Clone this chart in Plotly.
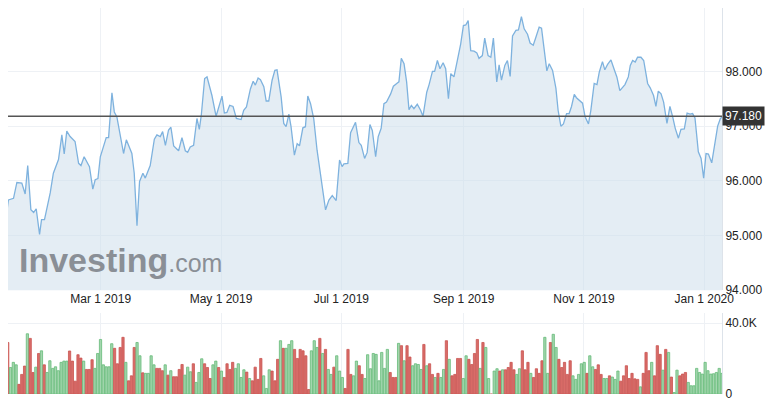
import pandas as pd
import plotly.graph_objects as go

START = pd.Timestamp("2019-01-10")
END = pd.Timestamp("2020-01-10")

# price: days after START, value
price_days = [0, 1.5, 3.2, 5.8, 7.5, 10, 11.7, 13, 14.6, 16, 17.3, 19, 20, 21.5, 24.4, 26, 28.6, 30.3, 31.5, 32.8,
              34.5, 37, 38.8, 40, 41.6, 44.3, 46, 47.2, 48.6, 49.8, 52.8, 54, 55.7, 56.9, 58.2, 59.9, 61.6, 63, 65.8, 67,
              68.4, 69.7, 71.4, 72.6, 75.1, 77.2, 78.5, 80.2, 81.4, 82.8, 84.4, 85.6, 87, 89.5, 91.2, 92.9, 94.1, 95.4, 97.1, 98.8,
              100, 101, 102.7, 103.9, 106.4, 108.5, 111.5, 112.7, 114, 115.4, 117.1, 118.8, 121.2, 122.5, 123.9, 125.9, 127.3, 128.4, 129.8, 131,
              132.7, 133.9, 135.2, 136.9, 138.3, 139.4, 141.5, 142.8, 144, 145.4, 146.5, 148.2, 149.6, 150.8, 152.5, 153.8, 155, 156.4, 158, 159.7,
              161.8, 164, 165.7, 167.4, 169.4, 171.1, 172.4, 173.3, 175.3, 176.7, 179.2, 180.9, 182.1, 183.8, 185.1, 186.5, 187.7, 189.4, 190.7, 192.2,
              193.6, 194.9, 197, 198.4, 200.4, 201.2, 202.4, 203.8, 205.1, 206.3, 207.5, 208.8, 210.5, 212.2, 213.4, 215.3, 216.5, 218.2, 219.3, 220.7,
              222, 223.6, 224.9, 226.3, 227.5, 229.1, 230.8, 232.5, 233.9, 235.1, 236.3, 237.6, 239.3, 240.7, 241.8, 243.5, 244.7, 246.4, 247.8, 249.1,
              250.8, 252, 253.2, 254.9, 256.2, 257.6, 258.8, 260.5, 261.8, 263.3, 264.7, 266.4, 267.7, 269.3, 270.6, 272.3, 273.5, 274.8, 276.2, 277.4,
              279.1, 280.8, 281.9, 283.3, 284.6, 286.2, 287.5, 288.7, 290.1, 291.2, 293.1, 294.3, 295.6, 297.3, 298.5, 300.2, 301.6, 302.8, 304.4, 305.6,
              307, 308.7, 310.4, 311.7, 313.2, 314.6, 315.8, 317.5, 318.5, 319.7, 321, 322.2, 323.9, 325.3, 327.3, 328.6, 330.3, 331.5, 332.7, 334.1,
              335.4, 337.1, 338.6, 340, 341.3, 342.9, 344.2, 345.9, 347.3, 348.8, 350.1, 351.3, 353, 354.4, 355.7, 356.9, 358.1, 359.8, 361.5, 362.8,
              364.2, 365.4]
price_vals = [95.26, 95.19, 95.65, 95.68, 95.97, 95.96, 95.76, 96.28, 95.47, 95.42, 95.49, 95.02, 95.29, 95.29, 95.78, 96.14, 96.39, 96.84, 96.49, 96.91,
              96.81, 96.72, 96.32, 96.28, 96.44, 96.26, 95.85, 96.02, 96.04, 96.44, 96.79, 96.79, 97.61, 97.26, 97.17, 96.81, 96.50, 96.75, 96.50, 96.14,
              95.18, 95.99, 96.14, 96.05, 96.28, 96.76, 96.84, 96.81, 96.90, 96.65, 96.93, 96.98, 96.64, 96.55, 96.79, 96.55, 96.52, 96.62, 96.65, 97.14,
              96.94, 97.20, 97.87, 97.90, 97.56, 97.18, 97.55, 97.24, 97.25, 97.38, 97.36, 97.14, 97.12, 97.29, 97.35, 97.68, 97.82, 97.75, 97.88, 97.85,
              97.72, 97.46, 97.46, 97.84, 98.02, 98.03, 97.53, 97.05, 96.99, 97.22, 96.99, 96.47, 96.68, 96.64, 96.97, 96.99, 97.55, 97.41, 97.14, 96.56,
              95.99, 95.47, 95.65, 95.73, 95.64, 96.38, 96.26, 96.31, 96.32, 96.88, 97.07, 96.70, 96.65, 96.41, 96.52, 97.03, 96.92, 96.44, 96.81, 96.96,
              97.41, 97.44, 97.59, 97.73, 97.79, 97.81, 98.24, 98.14, 97.81, 97.30, 97.38, 97.32, 97.40, 97.29, 97.18, 97.62, 97.76, 98.00, 98.00, 98.20,
              98.05, 98.16, 98.05, 97.50, 97.96, 97.90, 98.20, 98.50, 98.84, 98.85, 98.93, 98.38, 98.37, 98.34, 98.24, 98.29, 98.61, 98.29, 98.26, 98.61,
              97.81, 98.12, 97.84, 98.11, 98.20, 97.91, 98.65, 98.75, 98.76, 99.00, 98.78, 98.68, 98.52, 98.48, 98.62, 98.81, 98.79, 98.41, 98.01, 98.14,
              98.02, 97.69, 97.29, 97.00, 97.04, 97.23, 97.23, 97.36, 97.58, 97.52, 97.46, 97.42, 97.17, 97.04, 97.29, 97.78, 97.76, 97.99, 98.18, 98.03,
              98.13, 98.21, 98.03, 97.90, 97.65, 97.70, 97.76, 97.90, 98.11, 98.20, 98.17, 98.26, 98.26, 98.20, 97.78, 97.70, 97.56, 97.36, 97.64, 97.59,
              97.44, 97.05, 97.36, 97.17, 96.96, 96.78, 96.94, 96.95, 97.24, 97.22, 97.23, 97.15, 96.53, 96.41, 96.05, 96.50, 96.49, 96.33, 96.68, 97.00,
              97.14, 97.18]

# volume in thousands, and direction (g = up, r = down)
volume_k = [21.6, 16.5, 29.1, 15.0, 17.9, 16.5, 5.5, 11.1, 15.8, 34.0, 31.4, 12.2, 15.2, 22.9, 24.4, 16.5, 12.2, 18.8, 14.5, 15.4,
            13.2, 17.9, 18.6, 18.6, 24.3, 18.6, 7.3, 22.2, 20.3, 18.6, 13.9, 13.9, 19.4, 14.5, 22.9, 30.8, 16.5, 15.4, 15.4, 28.4,
            25.8, 17.1, 26.3, 32.0, 17.9, 7.5, 10.3, 26.3, 29.1, 21.6, 12.0, 11.7, 11.7, 21.6, 16.5, 14.5, 14.5, 13.2, 16.5, 10.7,
            13.2, 9.8, 9.8, 13.9, 16.7, 10.7, 15.2,
            12.6, 17.1, 6.6, 12.2, 19.9, 17.1, 15.0, 8.8, 16.5, 18.6, 15.0, 13.0, 9.4, 17.1, 13.9, 17.9, 14.5, 17.1, 9.4, 13.7,
            12.4, 8.8, 7.5, 15.2, 8.3, 20.1, 10.3, 3.2, 13.7, 13.0, 7.5, 19.6, 30.1, 25.8, 25.8, 28.0, 30.1, 25.2, 20.1, 25.2,
            24.4, 21.6, 2.6, 24.4, 30.1, 26.3, 31.4, 22.9, 25.2, 13.9, 11.1, 15.2, 21.6, 13.0, 9.4, 3.2, 25.2, 11.1, 10.3, 18.6,
            16.0, 11.1, 8.8, 22.2, 14.3, 22.9,
            22.4, 7.5, 23.5, 14.5, 25.2, 12.2, 9.4, 9.4, 28.6, 27.3, 18.8, 27.3, 20.9, 16.0, 17.1, 16.7, 13.9, 28.0, 16.0, 17.1,
            11.1, 9.4, 11.7, 9.4, 13.9, 30.1, 19.6, 10.3, 11.1, 20.1, 20.1, 8.8, 21.6, 19.6, 16.7, 22.9, 30.8, 14.5, 29.1, 26.3,
            8.8, 0.0, 13.0, 14.3, 13.0, 13.7, 13.7, 15.0, 17.9, 13.7, 11.1, 14.3, 24.4, 13.7, 17.9, 11.7, 9.4, 14.3, 11.7, 18.8,
            32.0, 11.7, 29.1, 33.7, 26.3, 19.6,
            15.0, 17.9, 11.1, 18.8, 10.3, 8.3, 11.1, 17.1, 17.9, 11.7, 21.6, 15.4, 13.9, 16.5, 11.1, 8.8, 8.8, 10.3, 9.6, 8.3,
            13.0, 7.3, 10.3, 16.0, 8.8, 11.7, 8.6, 8.3, 4.1, 11.7, 23.5, 13.2, 17.9, 10.3, 27.3, 22.4, 13.5, 25.2, 23.5, 9.6,
            0.9, 13.5, 10.3, 11.3, 12.2, 6.6, 4.7, 4.7, 14.5, 12.2, 11.3, 17.9, 13.2, 11.3, 11.5, 12.2, 14.5, 11.7]
volume_dir = list(
    "rgrgggrrrgrrgrgrggggggggrrrrrgrrrgggggggrrrrgrrrggrgggg" "rrrgrgrrrrg"
    "ggrggg" "rrrggrgrrrrgggg" "rgrrrrggg" "rrrgrgggrrrrrrggg" "rgrggrg" "ggrrrggrr"
    "gggggggggrrrgrgrrggggrgrrgrggrgrrrrggrr" "r" "rgrggrggrgrrrrggrrrgrrrr"
    "ggrggrrrrrgggggrggrrrggrgggrrrrrrrgrrrgrrrgrgrggrrrggggggg"
)
last_price = 97.18

up_fill, up_line = "#a3d6ae", "#66bb78"
dn_fill, dn_line = "#d96c68", "#c95450"

dates = START + pd.to_timedelta(price_days, unit="D")
vol_dates = pd.date_range(START, END, periods=len(volume_k))
dirs = (volume_dir + ["g"] * len(volume_k))[: len(volume_k)]
vol_fill = [up_fill if d == "g" else dn_fill for d in dirs]
vol_line = [up_line if d == "g" else dn_line for d in dirs]

fig = go.Figure()
fig.add_trace(go.Scatter(
    x=dates, y=price_vals, mode="lines", fill="tozeroy",
    line=dict(color="#7eb2de", width=1.3), fillcolor="rgba(205,222,235,0.55)",
    hoverinfo="skip",
))
fig.add_trace(go.Bar(
    x=vol_dates, y=[v * 1000 for v in volume_k], yaxis="y2", xaxis="x2",
    marker=dict(color=vol_fill, line=dict(color=vol_line, width=0.8)),
    hoverinfo="skip",
))

grid = "#eef1f5"
x_start = START + pd.Timedelta(days=3)
x_ticks = pd.to_datetime(["2019-03-01", "2019-05-01", "2019-07-01", "2019-09-01", "2019-11-01", "2020-01-01"])
x_labels = ["Mar 1 2019", "May 1 2019", "Jul 1 2019", "Sep 1 2019", "Nov 1 2019", "Jan 1 2020"]
common_x = dict(range=[x_start, END], tickvals=x_ticks, showgrid=True, gridcolor=grid, zeroline=False,
                showline=False, fixedrange=True)
axis_font = dict(size=12, color="#222")
fig.update_layout(
    width=758, height=399,
    margin=dict(l=0, r=44, t=0, b=0),
    paper_bgcolor="white", plot_bgcolor="white",
    showlegend=False, bargap=0.2,
    font=dict(family="Liberation Sans, Arial", size=12, color="#333"),
    xaxis=dict(**common_x, domain=[0, 1], anchor="y", ticktext=x_labels, ticks="",
               tickfont=axis_font),
    xaxis2=dict(**common_x, domain=[0, 1], anchor="y2", showticklabels=False),
    yaxis=dict(domain=[0.28, 1], range=[94, 99.16], side="right", tickvals=[94, 95, 96, 97, 98],
               tickformat=".3f", showgrid=True, gridcolor=grid, zeroline=False, fixedrange=True,
               showline=True, linecolor="#dde3ea", ticks="", tickfont=axis_font),
    yaxis2=dict(domain=[0.015, 0.221], range=[0, 45500], side="right", tickvals=[0, 40000],
                ticktext=["0", "40.0K"], showgrid=True, gridcolor=grid, zeroline=False, fixedrange=True,
                showline=True, linecolor="#dde3ea", ticks="", tickfont=axis_font),
)
fig.add_shape(type="line", xref="x domain", yref="y", x0=0, x1=1, y0=last_price, y1=last_price,
              line=dict(color="#555", width=1.5))
fig.add_annotation(xref="x domain", yref="y", x=1.0, y=last_price, xanchor="left", showarrow=False,
                   text=f"{last_price:.3f}", bgcolor="#333", font=dict(color="white", size=12),
                   borderpad=2)
fig.add_annotation(xref="paper", yref="paper", x=0.013, y=0.356, xanchor="left", yanchor="middle",
                   showarrow=False,
                   text="<b>Investing</b><span style='font-size:25px'>.com</span>",
                   font=dict(family="Liberation Sans, Arial", size=34, color="#8a8f96"))

fig.write_html("out.html")
